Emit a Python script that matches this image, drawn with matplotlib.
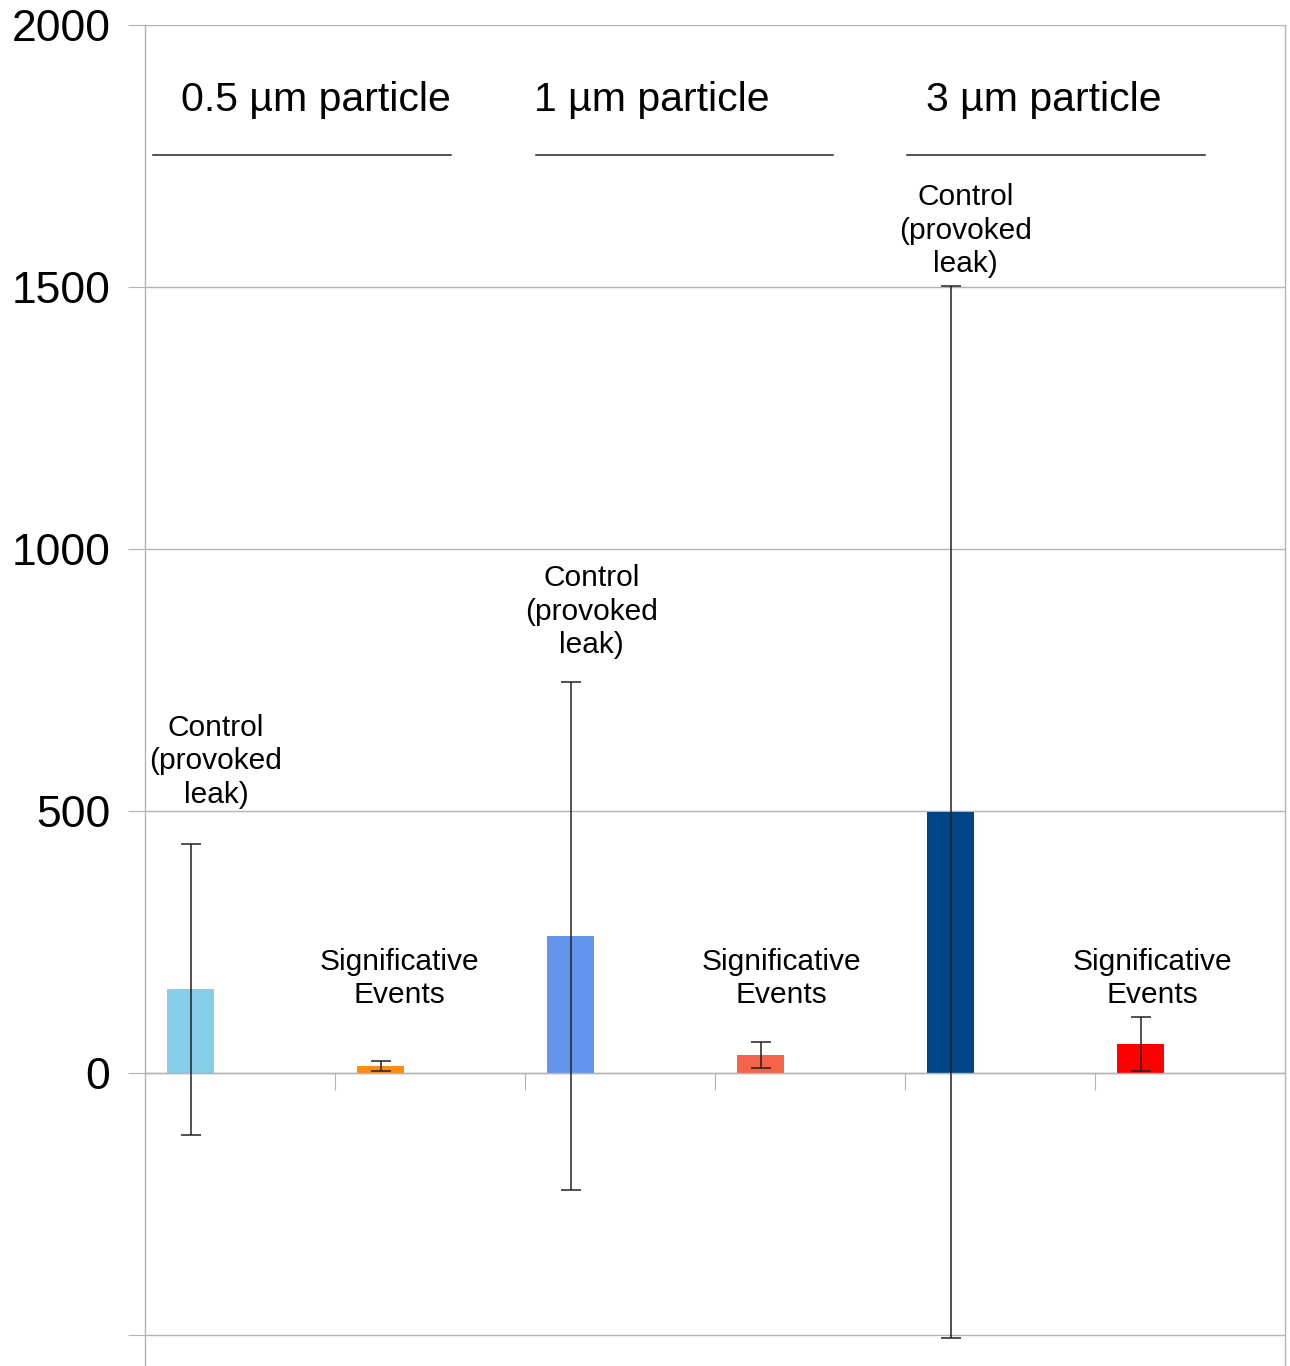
import numpy as np
import matplotlib.pyplot as plt

plt.rcParams['font.family'] = ['Liberation Sans', 'DejaVu Sans']

# datos
grupos = ['0.5 µm particle', '1 µm particle', '3 µm particle']
etiquetas = ['Control\n(provoked\nleak)', 'Significative\nEvents'] * 3
medias = [160, 13, 261, 34, 498, 55]
errores = [278, 10, 485, 25, 1004, 52]
colores = ['#85cde9', '#ff8c0f', '#6495ed', '#f4634a', '#004586', '#ff0000']
alto_etiqueta = [595, 180, 880, 180, 1607, 180]
etiqueta_dx = [0.374, 1.34, 2.35, 3.35, 4.32, 5.30]
grupo_x = [0.90, 2.67, 4.73]
grupo_linea = [(0.04, 1.61), (2.06, 3.62), (4.01, 5.58)]

gris = '#b3b3b3'
x = np.arange(len(medias)) + 0.24

fig = plt.figure(figsize=(12.9, 13.66), dpi=100)
ax = fig.add_axes([145 / 1290, 0, 1140 / 1290, 1 - 25 / 1366])

ax.bar(x, medias, width=0.25, color=colores, zorder=2)
ax.errorbar(x, medias, yerr=errores, fmt='none', ecolor='#222222',
            elinewidth=1.1, capsize=7, capthick=1.1, zorder=3)

ax.set_xlim(0, 6)
ax.set_ylim(-559, 2000)
ax.set_yticks([-500, 0, 500, 1000, 1500, 2000])
ax.set_yticklabels(['', '0', '500', '1000', '1500', '2000'], fontsize=32)
ax.tick_params(axis='y', length=12, color=gris, pad=13)
ax.grid(axis='y', color=gris, linewidth=1, zorder=0)

ax.spines['bottom'].set_position(('data', 0))
ax.set_xticks([1, 2, 3, 4, 5])
ax.set_xticklabels([])
ax.tick_params(axis='x', length=12, color=gris, direction='out')
ax.spines['top'].set_visible(False)
for lado in ['left', 'right', 'bottom']:
    ax.spines[lado].set_color(gris)
    ax.spines[lado].set_linewidth(1)

# etiquetas de cada barra
for xe, ye, txt in zip(etiqueta_dx, alto_etiqueta, etiquetas):
    ax.text(xe, ye, txt, ha='center', va='center', fontsize=21.5,
            linespacing=1.25)

# titulos de grupo con linea debajo
for gx, g, (x0, x1) in zip(grupo_x, grupos, grupo_linea):
    ax.text(gx, 1857, g, ha='center', va='center', fontsize=29.5)
    ax.plot([x0, x1], [1752, 1752], color='#222222', linewidth=1.1)

plt.savefig('out.png', dpi=100)
